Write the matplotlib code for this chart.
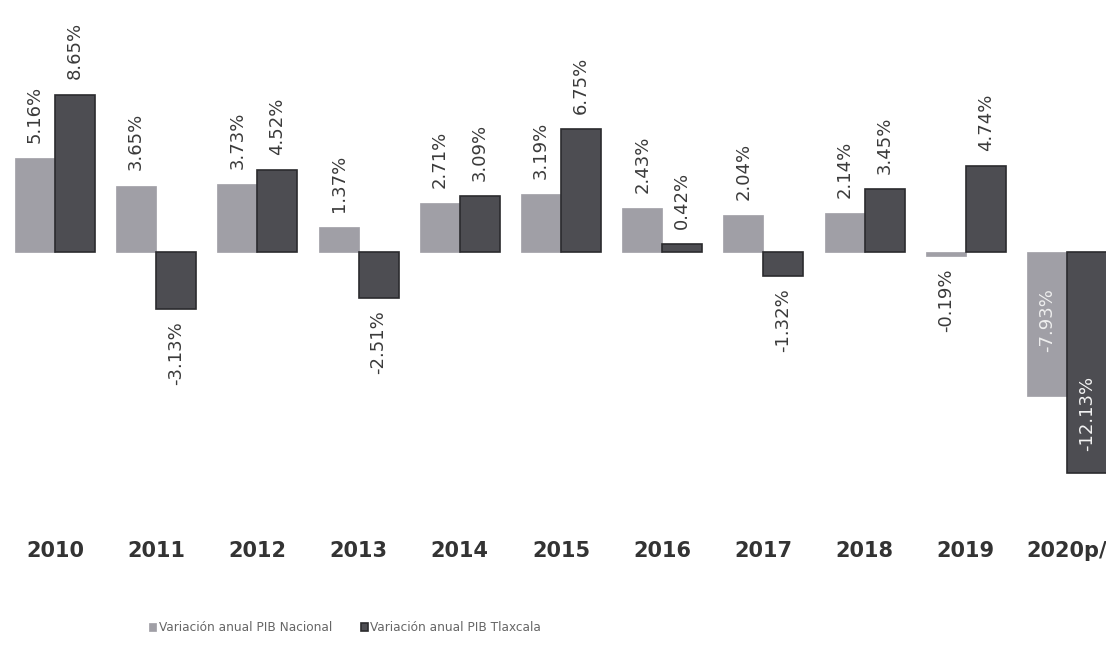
import matplotlib
matplotlib.use("Agg")
import matplotlib.pyplot as plt
import numpy as np

years = ["2010", "2011", "2012", "2013", "2014", "2015", "2016", "2017", "2018", "2019", "2020p/"]
nacional = [5.16, 3.65, 3.73, 1.37, 2.71, 3.19, 2.43, 2.04, 2.14, -0.19, -7.93]
tlaxcala = [8.65, -3.13, 4.52, -2.51, 3.09, 6.75, 0.42, -1.32, 3.45, 4.74, -12.13]
series_names = ["Variación anual PIB Nacional", "Variación anual PIB Tlaxcala"]

c_light = "#a09fa6"
c_dark = "#4d4d52"

fig = plt.figure(figsize=(11.06, 6.56), dpi=100)
ax = fig.add_axes([0, 0.268, 1, 0.732])

x = np.arange(len(years))
w = 0.395
b1 = ax.bar(x - w / 2, nacional, w, color=c_light, edgecolor=c_light, linewidth=0.5, label=series_names[0])
b2 = ax.bar(x + w / 2, tlaxcala, w, color=c_dark, edgecolor="#2b2b2e", linewidth=1.2, label=series_names[1])

ax.set_xlim(-0.543, 10.385)
ax.set_ylim(-12.53, 13.85)

for xs, vals in ((x - w / 2, nacional), (x + w / 2, tlaxcala)):
    for xi, v in zip(xs, vals):
        if v >= 0:
            ax.annotate(f"{v:.2f}%", xy=(xi, v), xytext=(0, 11), textcoords="offset points",
                        rotation=90, ha="center", va="bottom", fontsize=13, color="#3a3a3a")
        elif v > -5:
            ax.annotate(f"{v:.2f}%", xy=(xi, v), xytext=(0, -9), textcoords="offset points",
                        rotation=90, ha="center", va="top", fontsize=13, color="#3a3a3a")

# 2020 labels inside bars
ax.annotate(f"{nacional[-1]:.2f}%", xy=(x[-1] - w / 2, nacional[-1]), xytext=(0, 32),
            textcoords="offset points", rotation=90, ha="center", va="bottom",
            fontsize=13, color="#eeeeee")
ax.annotate(f"{tlaxcala[-1]:.2f}%", xy=(x[-1] + w / 2, tlaxcala[-1]), xytext=(0, 16),
            textcoords="offset points", rotation=90, ha="center", va="bottom",
            fontsize=13, color="#f4f4f4")

ax.set_xticks(x)
ax.set_xticklabels(years, fontsize=15, fontweight="bold", color="#333333")
ax.tick_params(axis="x", length=0, pad=44)
ax.set_yticks([])
for s in ax.spines.values():
    s.set_visible(False)

fig.legend(handles=[b1, b2], labels=series_names, loc="center", bbox_to_anchor=(0.312, 0.043),
           ncol=2, frameon=False, fontsize=8.7, labelcolor="#666666", handlelength=0.6,
           handleheight=0.6, handletextpad=0.2, columnspacing=2.4)

fig.savefig("out.png", dpi=100)
